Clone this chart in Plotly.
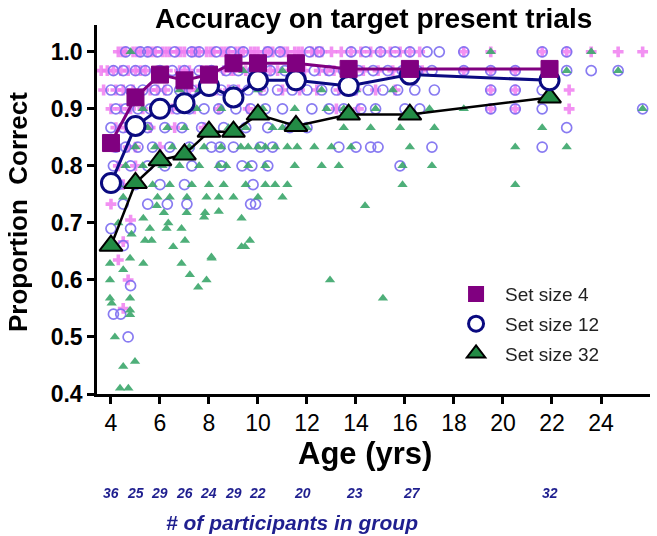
import plotly.graph_objects as go

# ---- group means ----
group_age = [4.0, 5.0, 6.0, 7.0, 8.0, 9.0, 10.0, 11.55, 13.7, 16.2, 21.9]
mean_ss4 = [0.84, 0.92, 0.96, 0.95, 0.96, 0.98, 0.98, 0.98, 0.97, 0.97, 0.97]
mean_ss12 = [0.77, 0.87, 0.90, 0.91, 0.94, 0.92, 0.95, 0.95, 0.94, 0.96, 0.95]
mean_ss32 = [0.66, 0.77, 0.81, 0.82, 0.86, 0.86, 0.89, 0.87, 0.89, 0.89, 0.92]
group_n = [36, 25, 29, 26, 24, 29, 22, 20, 23, 27, 32]
label_age = [4.0, 5.0, 6.0, 7.0, 8.0, 9.0, 10.0, 11.8, 13.95, 16.3, 21.9]

# ---- individual participants, set size 4 ----
ind4_age = [4.3, 4.6, 4.9, 5.2, 5.5, 5.8, 6.1, 6.4, 6.7, 7.0, 7.3, 7.6, 7.9, 8.2, 8.5, 8.8, 9.1, 9.4,
            9.7, 10.0, 10.3, 10.6, 10.9, 11.2, 11.5, 11.8, 12.2, 12.6, 13.0, 13.4, 13.8, 14.2, 14.6,
            15.0, 15.4, 15.8, 16.2, 16.6, 18.4, 19.5, 21.6, 22.6, 23.6, 24.7, 25.7,
            4.45, 5.05, 5.65, 6.25, 6.85, 7.45, 8.05, 8.65, 9.25, 9.85, 10.45, 11.05, 11.65, 12.4,
            3.6, 4.1, 4.4, 5.0, 5.4, 5.9, 6.3, 6.8, 7.2, 7.7, 8.1, 8.6, 9.0, 9.5, 10.2, 10.8, 11.3,
            11.9, 12.5, 13.1, 13.6, 14.3, 14.9, 15.5, 16.1, 16.7, 18.4, 19.5, 20.5,
            3.85, 4.7, 5.2, 6.0, 7.0, 7.9, 8.9, 9.8, 10.5, 11.6, 12.8,
            3.7, 4.2, 4.5, 4.9, 5.6, 6.2, 6.9, 7.5, 8.3, 9.2, 10.1, 11.0, 11.7, 12.4, 13.3, 14.0,
            14.8, 15.6, 19.5, 20.5, 22.7, 5.9, 7.2, 8.8,
            4.0, 4.4, 4.8, 5.3, 5.8, 6.5, 7.4, 8.4, 9.6, 13.2, 14.1, 19.5, 20.5, 22.7,
            4.2, 4.6, 5.1, 5.6, 6.6, 7.8,
            4.1, 4.7, 5.0, 6.0,
            4.3, 5.0, 4.5, 4.9,
            4.0, 4.8, 4.5, 4.3, 4.7, 4.5]
ind4_acc = [1.0] * 59 + [0.967] * 40 + [0.933] * 24 + [0.9] * 14 + [0.867] * 6 + [0.833] * 4 + \
           [0.8, 0.8, 0.767, 0.767] + [0.733, 0.705, 0.667, 0.635, 0.60, 0.55]

# ---- individual participants, set size 12 ----
ind12_age = [4.6, 5.2, 5.5, 5.9, 6.6, 7.3, 7.6, 8.3, 8.9, 9.4, 10.4, 10.9, 12.1, 12.5, 13.8, 14.4, 15.0,
             15.6, 16.2, 16.9, 17.4, 18.4, 21.6, 22.6,
             4.1, 4.5, 5.0, 5.4, 6.0, 6.5, 7.0, 7.6, 8.1, 8.7, 9.2, 9.8, 10.5, 11.1, 11.7, 12.3, 12.9,
             13.5, 14.1, 14.7, 15.3, 15.9, 16.5, 17.1, 18.4, 19.5, 20.5, 22.6, 23.6, 24.7,
             4.0, 4.4, 4.8, 5.3, 5.8, 6.3, 6.8, 7.3, 7.9, 8.5, 9.0, 9.6, 10.2, 10.8, 11.4, 12.0, 12.6,
             13.2, 13.9, 14.5, 15.1, 15.7, 16.4, 17.2, 19.5, 20.5, 21.6,
             4.2, 4.6, 5.1, 5.6, 6.1, 6.7, 7.2, 7.8, 8.4, 9.1, 9.7, 10.3, 11.0, 12.2, 12.9, 13.5,
             14.2, 14.8, 16.0, 16.6, 19.5, 20.5, 21.6, 25.7,
             4.0, 4.5, 5.0, 5.5, 6.2, 6.9, 7.7, 8.6, 9.5, 10.4, 11.3, 12.0, 22.6,
             4.2, 4.6, 5.1, 5.7, 6.4, 7.2, 8.1, 8.45, 9.0, 10.1, 10.6, 13.3, 14.0, 14.6, 14.9, 17.1, 21.6,
             4.1, 4.8, 5.5, 6.2, 7.3, 8.5, 9.35, 9.75, 10.4, 15.8,
             4.3, 5.0, 6.0, 7.0, 9.8,
             4.5, 5.5, 6.3, 7.1, 9.7, 9.9,
             4.0, 4.8, 4.5, 4.8, 4.1, 4.4, 4.7]
ind12_acc = [1.0] * 24 + [0.967] * 30 + [0.933] * 27 + [0.9] * 24 + [0.867] * 13 + [0.833] * 17 + \
            [0.8] * 10 + [0.767] * 5 + [0.733] * 6 + [0.69, 0.69, 0.66, 0.59, 0.54, 0.54, 0.50]

# ---- individual participants, set size 32 ----
ind32_age = [4.8, 19.5, 23.6,
             9.4, 11.0, 22.6, 24.7,
             7.6, 10.0, 12.6, 14.0, 15.5, 6.8, 9.0,
             6.0, 7.5, 8.5, 10.2, 11.5, 12.8, 14.8, 17.0, 18.4, 25.7, 13.5, 5.3,
             5.5, 6.3, 7.0, 8.0, 8.8, 9.5, 11.0, 12.0, 13.5, 14.6, 15.8, 17.2, 21.6, 10.6,
             5.0, 5.8, 6.5, 7.2, 7.8, 8.5, 9.3, 10.0, 10.3, 10.7, 11.2, 11.6, 12.3, 13.0, 13.8, 16.2,
             20.5, 22.6, 9.6,
             4.6, 5.3, 6.1, 6.8, 7.6, 8.4, 8.7, 9.6, 10.3, 11.5, 12.6, 13.3, 15.9, 17.1,
             4.3, 5.0, 5.7, 6.4, 7.3, 8.0, 8.6, 9.5, 10.3, 10.7, 11.2, 15.9, 20.5,
             4.5, 5.9, 6.4, 7.1, 7.9, 8.4, 9.0, 10.0, 11.0,
             5.87, 6.16, 7.09, 7.84, 8.4, 14.37,
             5.32, 6.34, 7.8, 9.33, 5.59, 6.27, 6.88, 4.84, 4.3,
             5.39, 5.66, 7.02, 9.67, 6.54, 9.33, 9.47,
             8.11, 4.78, 3.96, 5.32, 6.88, 8.1, 4.5, 7.22, 7.9, 3.96, 7.56, 12.94,
             3.96, 4.78, 15.1, 4.03, 4.78, 4.78, 4.16, 4.5, 4.98, 4.37, 4.71]
ind32_acc = [1.0] * 3 + [0.967] * 4 + [0.933] * 7 + [0.9] * 12 + [0.867] * 14 + [0.833] * 19 + \
            [0.8] * 14 + [0.767] * 13 + [0.745] * 9 + \
            [0.73, 0.718, 0.718, 0.718, 0.72, 0.73] + \
            [0.708, 0.70, 0.71, 0.708, 0.69, 0.69, 0.69, 0.68, 0.70] + \
            [0.669, 0.669, 0.669, 0.669, 0.658, 0.658, 0.658] + \
            [0.638, 0.638, 0.629, 0.629, 0.629, 0.64, 0.618, 0.609, 0.60, 0.60, 0.587, 0.60] + \
            [0.568, 0.568, 0.568, 0.559, 0.547, 0.539, 0.50, 0.448, 0.457, 0.41, 0.41]

legend_names = ["Set size 4", "Set size 12", "Set size 32"]

FONT = "Arial, Liberation Sans, Helvetica, sans-serif"

fig = go.Figure()

# individual scatter
fig.add_trace(go.Scatter(x=ind4_age, y=ind4_acc, mode="markers", showlegend=False,
                         marker=dict(symbol="cross", size=9, color="#f07ef0", opacity=0.85,
                                     line=dict(width=0)), hoverinfo="skip"))
fig.add_trace(go.Scatter(x=ind12_age, y=ind12_acc, mode="markers", showlegend=False,
                         marker=dict(symbol="circle-open", size=10, color="#7b6cf0",
                                     line=dict(width=1.7, color="#7b6cf0")), opacity=0.9,
                         hoverinfo="skip"))
fig.add_trace(go.Scatter(x=ind32_age, y=ind32_acc, mode="markers", showlegend=False,
                         marker=dict(symbol="triangle-up", size=9, color="#3aa66a",
                                     line=dict(width=0)), opacity=0.9, hoverinfo="skip"))

# group mean lines
fig.add_trace(go.Scatter(x=group_age, y=mean_ss32, mode="lines+markers", name=legend_names[2],
                         line=dict(color="black", width=2.5),
                         marker=dict(symbol="triangle-up", size=20, color="#238b45",
                                     line=dict(color="black", width=2)), showlegend=False))
fig.add_trace(go.Scatter(x=group_age, y=mean_ss12, mode="lines+markers", name=legend_names[1],
                         line=dict(color="#0a0a80", width=3),
                         marker=dict(symbol="circle", size=19, color="white",
                                     line=dict(color="#0a0a80", width=3)), showlegend=False))
fig.add_trace(go.Scatter(x=group_age, y=mean_ss4, mode="lines+markers", name=legend_names[0],
                         line=dict(color="#800080", width=3),
                         marker=dict(symbol="square", size=17, color="#800080",
                                     line=dict(color="#800080", width=1)), showlegend=False))

# legend-only entries
fig.add_trace(go.Scatter(x=[None], y=[None], mode="markers", name=legend_names[0], legendgroup="g4",
                         marker=dict(symbol="square", size=16, color="#800080")))
fig.add_trace(go.Scatter(x=[None], y=[None], mode="markers", name=legend_names[1], legendgroup="g12",
                         marker=dict(symbol="circle", size=15, color="white",
                                     line=dict(color="#0a0a80", width=3))))
fig.add_trace(go.Scatter(x=[None], y=[None], mode="markers", name=legend_names[2], legendgroup="g32",
                         marker=dict(symbol="triangle-up", size=18, color="#238b45",
                                     line=dict(color="black", width=2))))

annotations = []
for a, n in zip(label_age, group_n):
    annotations.append(dict(x=a, y=-0.268, xref="x", yref="paper", text=f"<b><i>{n}</i></b>",
                            showarrow=False, font=dict(family=FONT, size=14, color="#1f1f8f"),
                            xanchor="center", yanchor="middle"))
annotations.append(dict(x=0.353, y=-0.347, xref="paper", yref="paper",
                        text="<b><i># of participants in group</i></b>", showarrow=False,
                        font=dict(family=FONT, size=21, color="#1f1f8f"),
                        xanchor="center", yanchor="middle"))
annotations.append(dict(x=0.485, y=-0.16, xref="paper", yref="paper", text="<b>Age (yrs)</b>",
                        showarrow=False, font=dict(family=FONT, size=31, color="black"),
                        xanchor="center", yanchor="middle"))
annotations.append(dict(x=-0.143, y=0.493, xref="paper", yref="paper",
                        text="<b>Proportion  Correct</b>", textangle=-90, showarrow=False,
                        font=dict(family=FONT, size=26, color="black"),
                        xanchor="center", yanchor="middle"))
annotations.append(dict(x=0.5, y=1.065, xref="paper", yref="paper",
                        text="<b>Accuracy on target present trials</b>", showarrow=False,
                        font=dict(family=FONT, size=28, color="black"),
                        xanchor="center", yanchor="top"))

fig.update_layout(
    width=657, height=536,
    margin=dict(l=97, r=7, t=25, b=142),
    paper_bgcolor="white", plot_bgcolor="white",
    showlegend=True,
    legend=dict(x=0.633, y=0.322, xanchor="left", yanchor="top", bgcolor="rgba(0,0,0,0)",
                font=dict(family=FONT, size=19, color="#222222"), tracegroupgap=2,
                itemwidth=48, itemsizing="trace"),
    annotations=annotations,
    font=dict(family=FONT),
)
fig.update_xaxes(range=[3.43, 26.0], tickmode="array", tickvals=[4, 6, 8, 10, 12, 14, 16, 18, 20, 22, 24],
                 showline=True, linecolor="black", linewidth=2.5, ticks="outside", ticklen=7,
                 tickwidth=2.5, tickcolor="black", showgrid=False, zeroline=False,
                 tickfont=dict(family=FONT, size=23, color="black"), tickprefix="<b>", ticksuffix="</b>")
fig.update_yaxes(range=[0.4, 1.047], tickmode="array", tickvals=[0.4, 0.5, 0.6, 0.7, 0.8, 0.9, 1.0],
                 ticktext=["<b>0.4</b>", "<b>0.5</b>", "<b>0.6</b>", "<b>0.7</b>", "<b>0.8</b>",
                           "<b>0.9</b>", "<b>1.0</b>"],
                 showline=True, linecolor="black", linewidth=2.5, ticks="outside", ticklen=7,
                 tickwidth=2.5, tickcolor="black", showgrid=False, zeroline=False,
                 tickfont=dict(family=FONT, size=23, color="black"))

fig.write_html("out.html", config={"displayModeBar": False},
               post_script="document.body.style.margin='0px';")
